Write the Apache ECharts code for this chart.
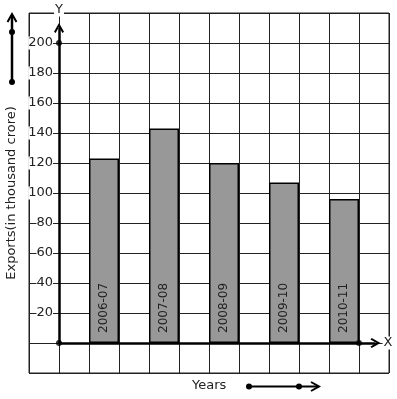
<!DOCTYPE html>
<html>
<head>
<meta charset="utf-8">
<script src="https://cdn.jsdelivr.net/npm/echarts@6/dist/echarts.min.js"></script>
<style>
  html, body { margin: 0; padding: 0; background: #fff; }
  #chart { width: 397px; height: 399px; }
</style>
</head>
<body>
<div id="chart"></div>
<script>
  // data
  var years = ['2006-07', '2007-08', '2008-09', '2009-10', '2010-11']
  var exports = [123, 143, 120, 107, 96]
  var yTicks = [20, 40, 60, 80, 100, 120, 140, 160, 180, 200]
  // dots drawn on the axes (origin, y=200, x=10)
  var axisDots = [[0, 0], [0, 200], [10, 0]]

  var font = 'DejaVu Sans'
  var ink = '#222'
  // open arrow head, pointing up
  var chevron = 'path://M5,0 L10,9 L8.4,10.2 L5,4 L1.6,10.2 L0,9 Z'

  // each bar sits in every second grid column
  var barData = exports.map(function (v, i) {
    return { name: years[i], value: [1.5 + i * 2, v] }
  })

  var chart = echarts.init(document.getElementById('chart'), null, { renderer: 'canvas' })

  chart.setOption({
    animation: false,
    backgroundColor: '#fff',
    textStyle: { fontFamily: font },
    grid: {
      left: 29, right: 8, top: 13, bottom: 26,
      outerBoundsMode: 'none', containLabel: false,
      show: true, borderColor: ink, borderWidth: 1
    },
    xAxis: {
      type: 'value', min: -1, max: 11, interval: 1,
      name: 'X', nameLocation: 'end', nameGap: -1,
      nameTextStyle: { fontFamily: font, fontSize: 13, color: ink, align: 'center', verticalAlign: 'middle', backgroundColor: '#fff', padding: [0, 1] },
      axisLine: { show: true, onZero: true, lineStyle: { color: 'rgba(0,0,0,0)', width: 0 } },
      axisTick: { show: false },
      axisLabel: { show: false },
      splitLine: { show: true, lineStyle: { color: ink, width: 1 } }
    },
    yAxis: {
      type: 'value', min: -20, max: 220, interval: 20,
      // one grid column in from the left edge, where x = 0
      offset: -30,
      name: 'Y', nameLocation: 'end', nameGap: 3,
      nameTextStyle: { fontFamily: font, fontSize: 13, color: ink, align: 'center', verticalAlign: 'middle', backgroundColor: '#fff', padding: [0, 1] },
      axisLine: { show: false, onZero: false },
      axisTick: { show: false },
      axisLabel: {
        margin: 6, fontFamily: font, fontSize: 13, color: ink,
        backgroundColor: '#fff', padding: [0, 0],
        formatter: function (v) { return yTicks.indexOf(v) >= 0 ? String(v) : '' }
      },
      splitLine: { show: true, lineStyle: { color: ink, width: 1 } }
    },
    series: [
      {
        type: 'bar',
        data: barData,
        barWidth: 30,
        itemStyle: { color: '#989898', borderColor: '#000', borderWidth: 1.5 },
        label: {
          show: true, formatter: '{b}',
          position: 'insideBottom', distance: 10, rotate: 90,
          align: 'left', verticalAlign: 'middle',
          fontFamily: font, fontSize: 12, color: ink
        },
        z: 2
      },
      {
        // the drawn axes with arrows
        type: 'scatter',
        data: axisDots,
        symbolSize: 6,
        itemStyle: { color: '#000' },
        silent: true,
        z: 4,
        markLine: {
          silent: true,
          symbol: ['none', chevron],
          symbolSize: [10, 10],
          label: { show: false },
          lineStyle: { color: '#000', width: 2.5, type: 'solid' },
          data: [
            [{ coord: [0, 0] }, { coord: [0, 210] }],
            [{ coord: [0, 0] }, { coord: [10.55, 0] }]
          ]
        }
      }
    ],
    graphic: [
      // left side: rotated axis title and arrow
      {
        type: 'text', x: 12, y: 193, rotation: Math.PI / 2,
        style: { text: 'Exports(in thousand crore)', fontFamily: font, fontSize: 13, fill: ink, align: 'center', verticalAlign: 'middle' }
      },
      { type: 'line', shape: { x1: 12, y1: 82, x2: 12, y2: 15 }, style: { stroke: '#000', lineWidth: 2.5 } },
      { type: 'polyline', shape: { points: [[7.5, 22], [12, 14], [16.5, 22]] }, style: { stroke: '#000', lineWidth: 2, fill: null } },
      { type: 'circle', shape: { cx: 12, cy: 32, r: 3 }, style: { fill: '#000' } },
      { type: 'circle', shape: { cx: 12, cy: 82, r: 3 }, style: { fill: '#000' } },
      // bottom: title and arrow
      {
        type: 'text', x: 192, y: 386,
        style: { text: 'Years', fontFamily: font, fontSize: 13, fill: ink, align: 'left', verticalAlign: 'middle' }
      },
      { type: 'line', shape: { x1: 249, y1: 386.5, x2: 318, y2: 386.5 }, style: { stroke: '#000', lineWidth: 2 } },
      { type: 'polyline', shape: { points: [[311, 382], [319, 386.5], [311, 391]] }, style: { stroke: '#000', lineWidth: 2, fill: null } },
      { type: 'circle', shape: { cx: 249, cy: 386.5, r: 3 }, style: { fill: '#000' } },
      { type: 'circle', shape: { cx: 299, cy: 386.5, r: 3 }, style: { fill: '#000' } }
    ]
  })
</script>
</body>
</html>
